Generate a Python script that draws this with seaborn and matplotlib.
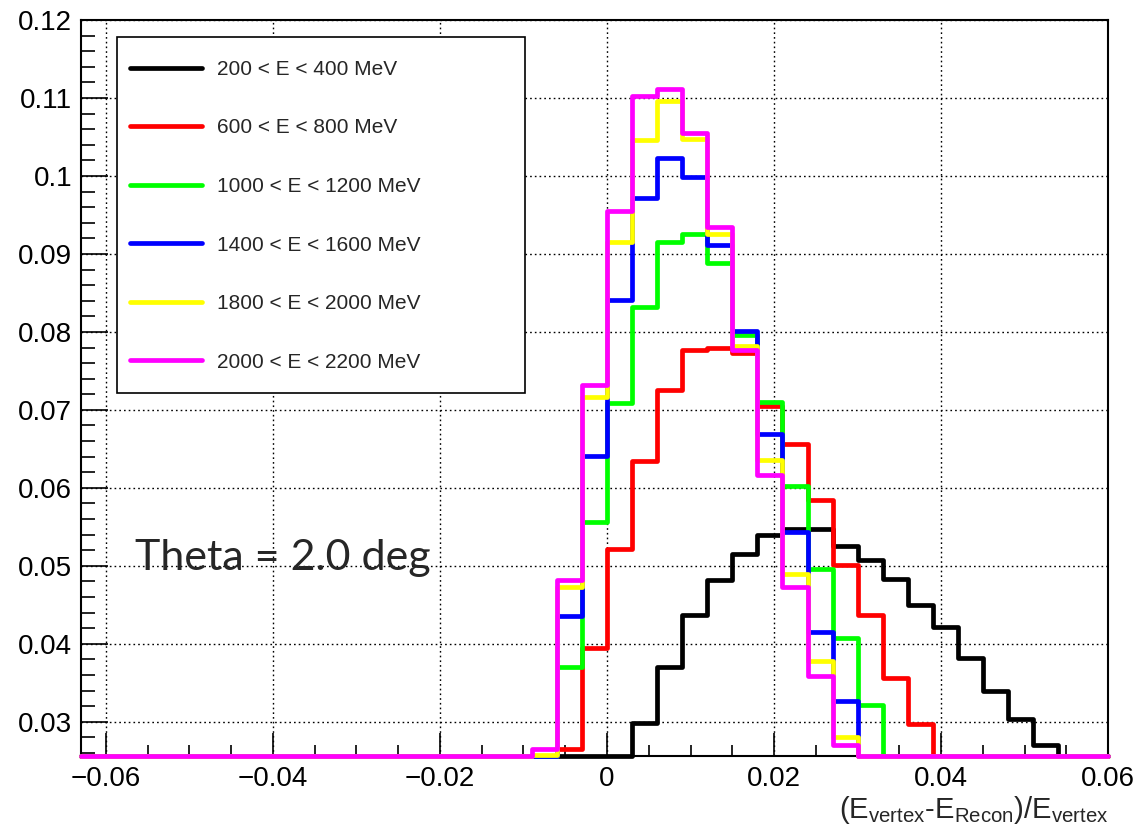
import numpy as np
import pandas as pd
import matplotlib
matplotlib.use("Agg")
import matplotlib.pyplot as plt
from matplotlib.ticker import MultipleLocator, FuncFormatter
from matplotlib.patches import Rectangle
import seaborn as sns

# ---------------- data ----------------
# histogram binning: 0.003-wide bins spanning the axis range
x_min, x_max, bin_width = -0.063, 0.060, 0.003
y_min, y_max = 0.0256, 0.12
# left edge of the first listed bin; all bins outside the listed ones are empty
first_listed_bin = -0.009

labels = ["200 < E < 400 MeV", "600 < E < 800 MeV", "1000 < E < 1200 MeV",
          "1400 < E < 1600 MeV", "1800 < E < 2000 MeV", "2000 < E < 2200 MeV"]
colors = ["#000000", "#ff0000", "#00ff00", "#0000ff", "#ffff00", "#ff00ff"]

# bins with left edges -0.009, -0.006, ..., 0.054
e200_400 = [0, 0, 0, 0, 0.0298, 0.0370, 0.0437, 0.0482, 0.0515, 0.0540, 0.0547,
            0.0547, 0.0525, 0.0508, 0.0483, 0.0450, 0.0422, 0.0382, 0.0340, 0.0303, 0.0270, 0]
e600_800 = [0, 0.0265, 0.0394, 0.0522, 0.0635, 0.0725, 0.0777, 0.0779, 0.0773, 0.0705, 0.0656,
            0.0585, 0.0501, 0.0437, 0.0356, 0.0297, 0, 0, 0, 0, 0, 0]
e1000_1200 = [0, 0.0370, 0.0556, 0.0709, 0.0832, 0.0915, 0.0925, 0.0889, 0.0796, 0.0710, 0.0602,
              0.0496, 0.0407, 0.0321, 0, 0, 0, 0, 0, 0, 0, 0]
e1400_1600 = [0, 0.0436, 0.0641, 0.0841, 0.0972, 0.1023, 0.0999, 0.0912, 0.0801, 0.0669, 0.0543,
              0.0415, 0.0327, 0, 0, 0, 0, 0, 0, 0, 0, 0]
e1800_2000 = [0.0257, 0.0473, 0.0716, 0.0915, 0.1046, 0.1096, 0.1047, 0.0926, 0.0782, 0.0636, 0.0489,
              0.0378, 0.0280, 0, 0, 0, 0, 0, 0, 0, 0, 0]
e2000_2200 = [0.0265, 0.0482, 0.0732, 0.0955, 0.1102, 0.1111, 0.1055, 0.0935, 0.0777, 0.0617, 0.0473,
              0.0359, 0.0270, 0, 0, 0, 0, 0, 0, 0, 0, 0]
series = [e200_400, e600_800, e1000_1200, e1400_1600, e1800_2000, e2000_2200]

# ---------------- style ----------------
sns.set_theme(style="white")
plt.rcParams["font.family"] = ["Liberation Sans", "DejaVu Sans"]
plt.rcParams["mathtext.fontset"] = "custom"
plt.rcParams["mathtext.rm"] = "Liberation Sans"
plt.rcParams["mathtext.it"] = "Liberation Sans"
plt.rcParams["mathtext.default"] = "regular"
plt.rcParams["axes.unicode_minus"] = True

fig = plt.figure(figsize=(11.43, 8.32), dpi=100)
ax = fig.add_axes([0.0706, 0.0913, 0.8990, 0.8846])

n_bins = int(round((x_max - x_min) / bin_width))
edges = x_min + bin_width * np.arange(n_bins + 1)
centers = (edges[:-1] + edges[1:]) / 2
start = int(round((first_listed_bin - x_min) / bin_width))

for i, (vals, lab, col) in enumerate(zip(series, labels, colors)):
    full = np.zeros(n_bins)
    full[start:start + len(vals)] = vals
    shown = np.clip(full, y_min, None)  # empty bins drawn on the frame, as in ROOT
    df = pd.DataFrame({"x": centers, "w": shown})
    sns.histplot(data=df, x="x", weights="w", bins=n_bins, binrange=(x_min, x_max),
                 element="step", fill=False, color=col, linewidth=3.4, label=lab,
                 clip_on=False, zorder=4 + i, ax=ax)

ax.set_xlim(x_min, x_max)
ax.set_ylim(y_min, y_max)
ax.set_xlabel("")
ax.set_ylabel("")

def fmt(v, pos):
    s = f"{round(v, 4):g}"
    return s.replace("-", "\u2212")

ax.xaxis.set_major_locator(MultipleLocator(0.02))
ax.xaxis.set_minor_locator(MultipleLocator(0.005))
ax.yaxis.set_major_locator(MultipleLocator(0.01))
ax.yaxis.set_minor_locator(MultipleLocator(0.002))
ax.xaxis.set_major_formatter(FuncFormatter(fmt))
ax.yaxis.set_major_formatter(FuncFormatter(fmt))

ax.tick_params(axis="both", which="both", direction="in", bottom=True, left=True,
               top=False, right=False, labelsize=20, colors="black", width=1.2)
ax.tick_params(axis="x", which="major", length=16.5, pad=7)
ax.tick_params(axis="x", which="minor", length=8)
ax.tick_params(axis="y", which="major", length=19.5, pad=6)
ax.tick_params(axis="y", which="minor", length=10)

ax.grid(True, which="major", color="black", linestyle=(0, (1.2, 2.2)), linewidth=1.0)
for sp in ax.spines.values():
    sp.set_visible(True)
    sp.set_color("black")
    sp.set_linewidth(1.5)

# legend box (ROOT TLegend style)
ax.add_patch(Rectangle((0.0353, 0.493), 0.397, 0.484, transform=ax.transAxes,
                       facecolor="white", edgecolor="black", linewidth=1.2, zorder=20))
leg = ax.legend(loc="upper left", bbox_to_anchor=(0.0480, 0.946), frameon=False,
                fontsize=15, handlelength=3.45, handletextpad=0.72, labelspacing=1.9,
                borderpad=0, borderaxespad=0)
leg.set_zorder(21)
for h in leg.get_lines():
    h.set_linewidth(3.4)

ax.text(-0.0565, 0.0495, "Theta = 2.0 deg", fontsize=31, family=["Lato", "DejaVu Sans"],
        ha="left", va="baseline", zorder=22)

ax.text(1.0, -0.0842, r"$(E_{vertex}$-$E_{Recon})/E_{vertex}$", transform=ax.transAxes,
        ha="right", va="baseline", fontsize=21)

fig.savefig("out.png", dpi=100)
